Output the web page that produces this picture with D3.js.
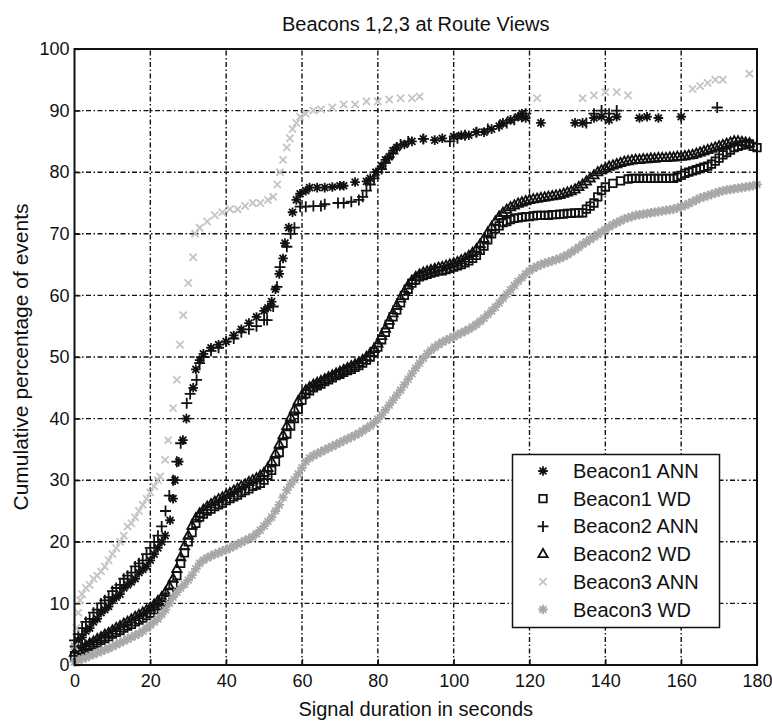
<!DOCTYPE html>
<html><head><meta charset="utf-8">
<script src="https://cdn.jsdelivr.net/npm/d3@7"></script>
<style>
html,body{margin:0;padding:0;background:#fff;}
svg{display:block;font-family:"Liberation Sans",Arial,sans-serif;}
</style></head>
<body>
<svg id="chart" width="772" height="726"></svg>
<script>
const title = "Beacons 1,2,3 at Route Views";
const xLabel = "Signal duration in seconds";
const yLabel = "Cumulative percentage of events";
const xTicks = [0,20,40,60,80,100,120,140,160,180];
const yTicks = [0,10,20,30,40,50,60,70,80,90,100];
const seriesNames = ["Beacon1 ANN","Beacon1 WD","Beacon2 ANN","Beacon2 WD","Beacon3 ANN","Beacon3 WD"];

const beacon1ANN = [[0,3],[1,4],[2,4.5],[3,5.5],[4,6],[5,7],[6,7.5],[7,8.5],[8,9],[9,9.5],[10,10.5],[11,11],[12,11.5],[13,12.5],[14,13],[15,13.5],[16,14],[17,15],[18,15.5],[19,16],[20,17],[21,18],[22,19],[23,20],[23.9,21],[25.2,23.5],[26,27],[26.5,30],[27.5,33],[28.6,36.5],[29.5,40],[31.3,45],[32,48],[33,49.5],[34,50.5],[36,51.5],[38,52],[40,52.5],[42,53.5],[44,54.5],[46,55.5],[48,56.5],[50,57.5],[51,58],[52,59],[53,61],[54,63.5],[55,66],[55.5,68.5],[56.5,71],[57.5,73.5],[58.5,75.5],[59.5,76.5],[61,77],[62,77.5],[64,77.5],[66,77.5],[68,77.6],[70,77.8],[71,77.8],[74,78.4],[77,78.5],[78,79],[79.5,80],[81,81],[82,82],[83,82.5],[84,83.5],[85,84],[87,84.5],[89,85],[92,85.4],[95,85.2],[97,85.5],[100,85.8],[102,86],[104,86],[106,86.5],[108,86.5],[110,87],[112,87.5],[113,88],[115,88.5],[117,89],[118,89.5],[119,88.8],[123,88],[132,88],[134,88],[137,88.8],[139,89],[141,88.5],[143,89],[149,88.8],[151,89],[154,88.8],[160,89]];

const beacon1WD = [[0,1.5],[1,2],[2,2.3],[3,2.6],[4,3],[5,3.3],[6,3.6],[7,4],[8,4.3],[9,4.6],[10,5],[11,5.3],[12,5.6],[13,6],[14,6.3],[15,6.6],[16,7],[17,7.3],[18,7.6],[19,8],[20,8.4],[21,9],[22,9.6],[23,10.2],[24,11],[25,11.8],[26,13],[27,14.5],[28,16.5],[29,18.2],[30,20],[31,21.5],[32,23],[33,24],[34,24.5],[35,25],[36,25.3],[37,25.7],[38,26],[39,26.3],[40,26.7],[41,27],[42,27.3],[43,27.6],[44,28],[45,28.3],[46,28.6],[47,29],[48,29.2],[49,29.5],[50,30],[51,30.8],[52,31.6],[53,33],[54,34.5],[55,36],[56,37.5],[57,38.8],[58,40],[59,41.5],[60,43],[61,44],[62,44.5],[63,45],[64,45.3],[65,45.6],[66,46],[67,46.3],[68,46.6],[69,47],[70,47.2],[71,47.5],[72,47.8],[73,48],[74,48.3],[75,48.6],[76,49],[77,49.5],[78,50],[79,50.8],[80,51.6],[81,52.8],[82,54],[83,55.3],[84,56.5],[85,57.6],[86,58.8],[87,60],[88,61],[89,62],[90,62.5],[91,63],[92,63.2],[93,63.4],[94,63.6],[95,63.8],[96,64],[97,64],[98,64.2],[99,64.4],[100,64.6],[101,64.8],[102,65],[103,65.3],[104,65.6],[105,66],[106,66.5],[107,67.3],[108,68],[109,69],[110,70],[111,70.8],[112,71.3],[113,71.8],[114,72],[115,72.3],[116,72.5],[117,72.6],[118,72.7],[119,72.8],[120,72.8],[121,72.9],[122,73],[123,73],[124,73],[125,73],[126,73.1],[127,73.1],[128,73.2],[129,73.2],[130,73.3],[131,73.3],[132,73.4],[133,73.4],[134,73.4],[135,74],[136,74.5],[137,75],[138,76],[139,77],[140,77.6],[142,78.2],[144,78.6],[146,78.9],[147,79],[148,79],[149,79],[150,79],[151,79],[152,79],[153,79],[154,79],[155,79],[156,79],[157,79],[158,79],[159,79.2],[160,79.5],[161,79.8],[162,80],[163,80.2],[164,80.4],[165,80.6],[166,80.8],[167,81],[168,81.3],[169,81.8],[170,82.3],[171,82.8],[172,83.2],[173,83.6],[174,84],[175,84.2],[176,84.4],[177,84.5],[178,84.6],[179,84.2],[180,84]];

const beacon2ANN = [[0,4],[1,5],[2,6],[3,7],[4,7.5],[5,8.5],[6,9],[7,10],[8,10.5],[9,11],[10,12],[11,12.5],[12,13],[13,14],[14,14.5],[15,15],[16,16],[17,16.5],[18,17],[19,18],[20,19],[21,20],[22,21],[23,22.5],[24,25],[25,27.5],[26,30],[27,33],[28,36],[29.6,42.5],[30.5,44],[32.2,46.3],[33,49],[34,50],[36,51],[38,51.5],[40,52.5],[42,53],[44,54],[46,54.5],[48,55],[50,56],[50.8,56],[52.4,58.2],[53.4,61.4],[54.2,64.6],[56,67.9],[57,70],[58,71],[59.5,74.4],[61,74.4],[63,74.5],[65,74.5],[66,74.8],[69.5,75],[71,75],[73,75.2],[75,75.5],[76,76],[77,77],[78,78],[79,79],[80,80],[81,80.5],[82,81.5],[83,82.5],[84,83],[85,84],[86,84.5],[88,85],[92,85.4],[99,85],[101,85.5],[103,86],[106,86.5],[109,87],[112,87.5],[114,88],[116,88.5],[118,89],[119,89.5],[135,88],[137,89.5],[139,90],[141,89.5],[143,90],[169.5,90.5]];

const beacon2WD = [[0,2],[1,2.4],[2,2.8],[3,3.1],[4,3.5],[5,3.8],[6,4.2],[7,4.5],[8,4.9],[9,5.2],[10,5.6],[11,6],[12,6.3],[13,6.7],[14,7],[15,7.4],[16,7.8],[17,8.1],[18,8.5],[19,8.9],[20,9.3],[21,9.8],[22,10.4],[23,11],[24,11.8],[25,12.8],[26,14],[27,15.6],[28,17.5],[29,19.3],[30,21],[31,22.6],[32,23.8],[33,24.6],[34,25.2],[35,25.7],[36,26.1],[37,26.5],[38,26.9],[39,27.2],[40,27.6],[41,27.9],[42,28.3],[43,28.6],[44,29],[45,29.3],[46,29.7],[47,30],[48,30.3],[49,30.7],[50,31.2],[51,32],[52,33],[53,34.3],[54,35.8],[55,37.3],[56,38.8],[57,40.2],[58,41.5],[59,42.8],[60,43.8],[61,44.6],[62,45.1],[63,45.5],[64,45.8],[65,46.1],[66,46.4],[67,46.7],[68,47],[69,47.3],[70,47.6],[71,47.9],[72,48.2],[73,48.5],[74,48.8],[75,49.1],[76,49.5],[77,50],[78,50.6],[79,51.3],[80,52.2],[81,53.4],[82,54.6],[83,55.9],[84,57.1],[85,58.3],[86,59.5],[87,60.6],[88,61.6],[89,62.4],[90,63],[91,63.4],[92,63.7],[93,63.9],[94,64.1],[95,64.3],[96,64.5],[97,64.6],[98,64.8],[99,65],[100,65.2],[101,65.4],[102,65.7],[103,66],[104,66.4],[105,66.9],[106,67.5],[107,68.3],[108,69.2],[109,70.2],[110,71.1],[111,72],[112,72.8],[113,73.4],[114,73.9],[115,74.3],[116,74.6],[117,74.9],[118,75.1],[119,75.3],[120,75.5],[121,75.6],[122,75.7],[123,75.8],[124,75.9],[125,76],[126,76.1],[127,76.2],[128,76.3],[129,76.5],[130,76.7],[131,76.9],[132,77.2],[133,77.6],[134,78],[135,78.5],[136,79],[137,79.5],[138,80],[139,80.3],[140,80.6],[141,80.9],[142,81.1],[143,81.3],[144,81.5],[145,81.7],[146,81.8],[147,81.9],[148,82],[149,82],[150,82.1],[151,82.1],[152,82.2],[153,82.2],[154,82.3],[155,82.3],[156,82.3],[157,82.4],[158,82.4],[159,82.5],[160,82.5],[161,82.6],[162,82.7],[163,82.8],[164,83],[165,83.2],[166,83.4],[167,83.6],[168,83.8],[169,84],[170,84.2],[171,84.4],[172,84.6],[173,84.8],[174,85],[175,85],[176,84.9],[177,84.8],[178,84.7]];

const beacon3ANN = [[0,3],[0.5,6],[1,8.5],[1.5,10.5],[2,11.5],[3,12.5],[4,13],[5,14],[6,14.5],[7,15.2],[8,16],[9,17],[10,18],[11,19],[12,20],[13,21],[14,22.5],[15,23],[16,24],[17,25],[18,26],[19,27],[20,28],[21,29],[22,30],[22.6,30.6],[23.9,33.3],[24.7,36.5],[26,41.7],[27,46.3],[27.8,52],[28.7,56.8],[30,62],[31.3,66.2],[31.8,70],[33,71],[35,72],[37,73],[39,73.5],[41,74],[43,74],[45,74.5],[47,75],[49,75],[51,75.5],[52.4,76],[53.5,78],[54.2,80],[55,82],[56,84],[56.8,85.5],[57.5,87],[58.5,88],[59.5,89],[61,89.5],[63,90],[65,90.2],[68,90.5],[71,91],[74,91],[77,91.5],[80,91.5],[83,91.8],[86,92],[89,92],[91,92.3],[122,92],[134,92],[137,92.5],[140,93],[143,93],[146,92.5],[163,93.5],[165,94],[167,94.5],[169,95],[171,95],[178,96]];

const beacon3WD = [[0,0.5],[1,0.8],[2,1],[3,1.2],[4,1.5],[5,1.7],[6,2],[7,2.2],[8,2.5],[9,2.7],[10,3],[11,3.3],[12,3.6],[13,3.9],[14,4.2],[15,4.5],[16,4.8],[17,5.1],[18,5.5],[19,6],[20,6.5],[21,7],[22,7.5],[23,8.2],[24,9],[25,10],[26,11],[27,11.8],[28,12.5],[29,13.1],[30,13.8],[31,14.6],[32,15.6],[33,16.5],[34,17],[35,17.4],[36,17.7],[37,18],[38,18.2],[39,18.5],[40,18.7],[41,19],[42,19.3],[43,19.6],[44,19.9],[45,20.2],[46,20.5],[47,20.8],[48,21.3],[49,21.9],[50,22.6],[51,23.3],[52,24],[53,25],[54,26],[55,27.2],[56,28.4],[57,29.3],[58,30.1],[59,31],[60,32],[61,33],[62,33.6],[63,34],[64,34.3],[65,34.6],[66,34.9],[67,35.2],[68,35.5],[69,35.8],[70,36.1],[71,36.4],[72,36.7],[73,37],[74,37.3],[75,37.6],[76,38],[77,38.4],[78,38.8],[79,39.3],[80,39.9],[81,40.6],[82,41.4],[83,42.2],[84,43],[85,43.8],[86,44.6],[87,45.5],[88,46.4],[89,47.3],[90,48.2],[91,49],[92,49.8],[93,50.5],[94,51.1],[95,51.6],[96,52],[97,52.4],[98,52.7],[99,53],[100,53.3],[101,53.6],[102,53.9],[103,54.2],[104,54.5],[105,54.9],[106,55.3],[107,55.8],[108,56.3],[109,56.9],[110,57.5],[111,58.1],[112,58.8],[113,59.5],[114,60.2],[115,60.9],[116,61.6],[117,62.3],[118,62.9],[119,63.5],[120,64],[121,64.4],[122,64.7],[123,65],[124,65.2],[125,65.4],[126,65.6],[127,65.8],[128,66],[129,66.3],[130,66.6],[131,67],[132,67.4],[133,67.8],[134,68.3],[135,68.7],[136,69.1],[137,69.5],[138,69.9],[139,70.3],[140,70.7],[141,71.1],[142,71.5],[143,71.8],[144,72.1],[145,72.4],[146,72.6],[147,72.8],[148,73],[149,73.1],[150,73.2],[151,73.3],[152,73.4],[153,73.5],[154,73.6],[155,73.7],[156,73.8],[157,73.9],[158,74],[159,74.2],[160,74.4],[161,74.6],[162,74.9],[163,75.2],[164,75.5],[165,75.8],[166,76],[167,76.2],[168,76.4],[169,76.6],[170,76.8],[171,77],[172,77.1],[173,77.2],[174,77.3],[175,77.4],[176,77.5],[177,77.6],[178,77.7],[179,77.8],[180,78]];

const seriesData = [beacon1ANN, beacon1WD, beacon2ANN, beacon2WD, beacon3ANN, beacon3WD];
const seriesMarkers = ["asterisk","square","plus","triangle","cross","asterisk"];
const seriesColors = ["#111","#111","#111","#111","#c4c4c4","#a8a8a8"];

// ---------- layout ----------
const svg = d3.select("#chart");
const W = 772, H = 726;
const m = {left:74.5, right:W-757, top:49, bottom:H-665};
const pw = W - m.left - m.right, ph = H - m.top - m.bottom;
const x = d3.scaleLinear().domain([0,180]).range([m.left, m.left+pw]);
const y = d3.scaleLinear().domain([0,100]).range([m.top+ph, m.top]);

function markerPath(type, s){
  const p = d3.path();
  if(type==="plus"){ p.moveTo(-s,0); p.lineTo(s,0); p.moveTo(0,-s); p.lineTo(0,s); }
  else if(type==="cross"){ const t=s*0.75; p.moveTo(-t,-t); p.lineTo(t,t); p.moveTo(-t,t); p.lineTo(t,-t); }
  else if(type==="asterisk"){ const t=s*0.72; p.moveTo(-s,0); p.lineTo(s,0); p.moveTo(0,-s); p.lineTo(0,s);
     p.moveTo(-t,-t); p.lineTo(t,t); p.moveTo(-t,t); p.lineTo(t,-t); }
  else if(type==="square"){ const t=s*0.75; p.rect(-t,-t,2*t,2*t); }
  else if(type==="triangle"){ p.moveTo(0,-s); p.lineTo(s*0.9,s*0.6); p.lineTo(-s*0.9,s*0.6); p.closePath(); }
  return p.toString();
}
const markerSize = {asterisk:4.8, square:5, plus:5.5, triangle:5.2, cross:4.8};

// grid
const grid = svg.append("g").attr("stroke","#111").attr("stroke-width",1.4)
  .attr("stroke-dasharray","5,2.5,1.5,2.5");
grid.selectAll("line.gx").data(xTicks.filter(d=>d>0&&d<180)).join("line")
  .attr("x1",d=>x(d)).attr("x2",d=>x(d)).attr("y1",y(0)).attr("y2",y(100));
grid.selectAll("line.gy").data(yTicks.filter(d=>d>0&&d<100)).join("line")
  .attr("y1",d=>y(d)).attr("y2",d=>y(d)).attr("x1",x(0)).attr("x2",x(180));

// series
const plot = svg.append("g");
seriesData.forEach((data,i)=>{
  const mk = seriesMarkers[i];
  plot.append("g").attr("fill","none").attr("stroke",seriesColors[i]).attr("stroke-width",1.8)
    .selectAll("path").data(data).join("path")
    .attr("transform",d=>`translate(${x(d[0])},${y(d[1])})`)
    .attr("d",markerPath(mk, markerSize[mk]));
});

// axes
const xAxis = d3.axisBottom(x).tickValues(xTicks).tickSize(-6).tickPadding(9).tickFormat(d3.format("d"));
const yAxis = d3.axisLeft(y).tickValues(yTicks).tickSize(-6).tickPadding(5).tickFormat(d3.format("d"));
const gx = svg.append("g").attr("transform",`translate(0,${y(0)})`).call(xAxis);
const gy = svg.append("g").attr("transform",`translate(${x(0)},0)`).call(yAxis);
[gx,gy].forEach(g=>{
  g.select(".domain").remove();
  g.selectAll("line").attr("stroke","#111").attr("stroke-width",1.3);
  g.selectAll("text").attr("font-size",18).attr("fill","#111").attr("font-family","'Liberation Sans',Arial,sans-serif");
});
svg.append("rect").attr("x",x(0)).attr("y",y(100)).attr("width",pw).attr("height",ph)
  .attr("fill","none").attr("stroke","#111").attr("stroke-width",2);

// titles
svg.append("text").attr("x",x(90)).attr("y",31).attr("text-anchor","middle")
  .attr("font-size",20).attr("fill","#111").text(title);
svg.append("text").attr("x",x(90)).attr("y",716).attr("text-anchor","middle")
  .attr("font-size",20).attr("fill","#111").text(xLabel);
svg.append("text").attr("transform",`translate(28,${(y(0)+y(100))/2}) rotate(-90)`)
  .attr("text-anchor","middle").attr("font-size",21).attr("fill","#111").text(yLabel);

// legend
const lg = svg.append("g");
lg.append("rect").attr("x",512.5).attr("y",454.5).attr("width",207).attr("height",173)
  .attr("fill","#fff").attr("stroke","#111").attr("stroke-width",1.5);
seriesNames.forEach((name,i)=>{
  const yy = 471 + i*27.7;
  lg.append("path").attr("transform",`translate(543,${yy})`)
    .attr("d",markerPath(seriesMarkers[i], markerSize[seriesMarkers[i]]))
    .attr("fill","none").attr("stroke",seriesColors[i]).attr("stroke-width",1.8);
  lg.append("text").attr("x",573).attr("y",yy).attr("dy","0.35em")
    .attr("font-size",20).attr("fill","#111").text(name);
});
</script>
</body></html>
